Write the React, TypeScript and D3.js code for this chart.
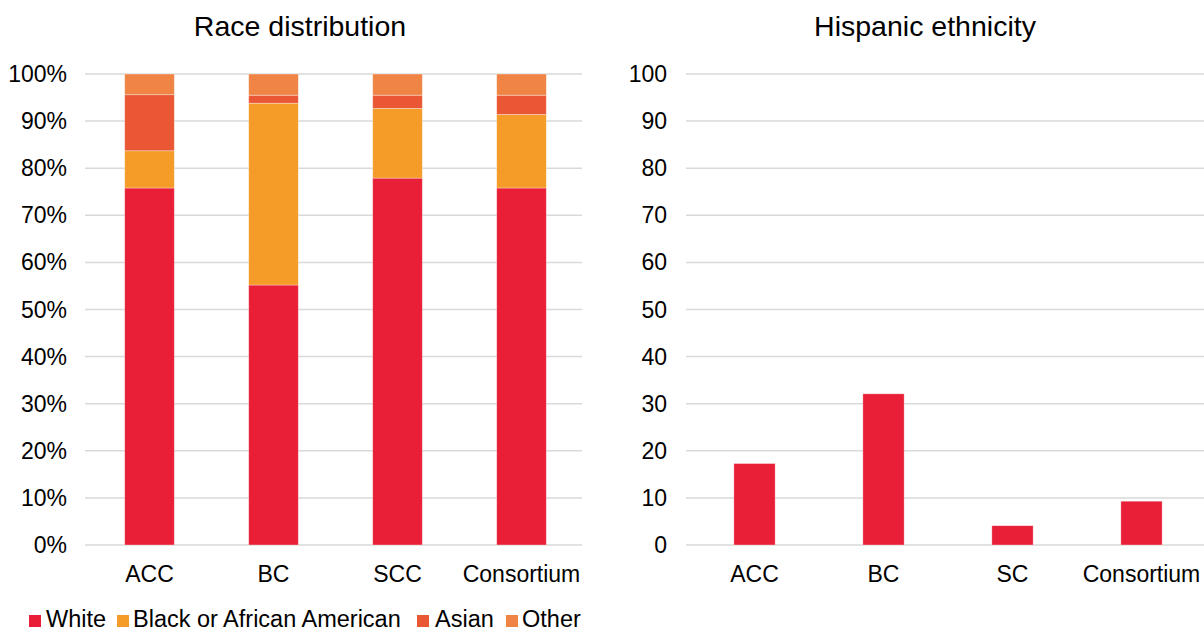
import React from "react";
import * as d3 from "d3";

// Race distribution (percent of each cohort, stacked bottom to top)
const raceCategories = ["ACC", "BC", "SCC", "Consortium"];
const raceSeries = ["White", "Black or African American", "Asian", "Other"];
const white = [75.8, 55.2, 77.9, 75.8];
const black = [7.9, 38.6, 14.8, 15.6];
const asian = [11.9, 1.7, 2.8, 4.1];
const other = [4.4, 4.5, 4.5, 4.5];
const raceColors = ["#E81F37", "#F49B28", "#EA5734", "#EF8445"];
const raceTicks = [0, 10, 20, 30, 40, 50, 60, 70, 80, 90, 100];

// Hispanic ethnicity (percent)
const hispCategories = ["ACC", "BC", "SC", "Consortium"];
const hispValues = [17.3, 32.1, 4.1, 9.3];
const hispTicks = [0, 10, 20, 30, 40, 50, 60, 70, 80, 90, 100];

const FONT = "Liberation Sans, Arial, sans-serif";
const GRID = "#D9D9D9";
const LABEL_SIZE = 23;
const TITLE_SIZE = 28.5;

export default function App() {
  const width = 1204;
  const height = 632;
  const top = 74;
  const bottom = 545;

  // Left panel scales
  const xL = d3.scaleBand().domain(raceCategories).range([87.5, 583.5]).paddingInner(0.6).paddingOuter(0.3);
  const yL = d3.scaleLinear().domain([0, 100]).range([bottom, top]);

  const rows = raceCategories.map((c, i) => ({
    cat: c,
    White: white[i],
    "Black or African American": black[i],
    Asian: asian[i],
    Other: other[i],
  }));
  const stacked = d3.stack<any>().keys(raceSeries)(rows);

  // Right panel scales
  const xR = d3.scaleBand().domain(hispCategories).range([690, 1206]).paddingInner(0.68).paddingOuter(0.34);
  const yR = d3.scaleLinear().domain([0, 100]).range([bottom, top]);

  const pct = d3.format(".0%");

  // Legend layout (swatch x, label x)
  const legendItems = raceSeries.map((s, i) => ({ s, c: raceColors[i] }));
  const swatchX = [29, 117, 417, 506];
  const labelX = [46, 133, 435, 522];

  return (
    <svg width={width} height={height} style={{ position: "absolute", left: 0, top: 0, background: "#fff" }}>
      <rect width={width} height={height} fill="#fff" />
      {/* Left: race distribution */}
      <text x={300} y={36} textAnchor="middle" fontFamily={FONT} fontSize={TITLE_SIZE} fill="#000">
        Race distribution
      </text>
      {raceTicks.map((t) => (
        <g key={"gl" + t}>
          <line x1={85} x2={582} y1={yL(t)} y2={yL(t)} stroke={GRID} strokeWidth={1.5} />
          <text x={67} y={yL(t) + 8} textAnchor="end" fontFamily={FONT} fontSize={LABEL_SIZE} fill="#000">
            {pct(t / 100)}
          </text>
        </g>
      ))}
      {stacked.map((layer, li) => (
        <g key={layer.key} fill={raceColors[li]}>
          {layer.map((d, i) => (
            <rect
              key={i}
              x={xL(raceCategories[i])!}
              width={xL.bandwidth()}
              y={yL(d[1])}
              height={yL(d[0]) - yL(d[1])}
              stroke="#fff"
              strokeOpacity={0.45}
              strokeWidth={0.75}
            />
          ))}
        </g>
      ))}
      {raceCategories.map((c) => (
        <text key={c} x={xL(c)! + xL.bandwidth() / 2} y={582} textAnchor="middle" fontFamily={FONT} fontSize={LABEL_SIZE} fill="#000">
          {c}
        </text>
      ))}
      {legendItems.map((it, i) => (
        <g key={it.s}>
          <rect x={swatchX[i]} y={615} width={12} height={12} fill={it.c} />
          <text x={labelX[i]} y={627} fontFamily={FONT} fontSize={23.5} fill="#000">
            {it.s}
          </text>
        </g>
      ))}

      {/* Right: Hispanic ethnicity */}
      <text x={925} y={36} textAnchor="middle" fontFamily={FONT} fontSize={TITLE_SIZE} fill="#000">
        Hispanic ethnicity
      </text>
      {hispTicks.map((t) => (
        <g key={"gr" + t}>
          <line x1={686} x2={1204} y1={yR(t)} y2={yR(t)} stroke={GRID} strokeWidth={1.5} />
          <text x={667} y={yR(t) + 8} textAnchor="end" fontFamily={FONT} fontSize={LABEL_SIZE} fill="#000">
            {t}
          </text>
        </g>
      ))}
      {hispValues.map((v, i) => (
        <rect
          key={i}
          x={xR(hispCategories[i])!}
          width={xR.bandwidth()}
          y={yR(v)}
          height={yR(0) - yR(v)}
          fill={raceColors[0]}
          stroke="#fff"
          strokeOpacity={0.45}
          strokeWidth={0.75}
        />
      ))}
      {hispCategories.map((c) => (
        <text key={c} x={xR(c)! + xR.bandwidth() / 2} y={582} textAnchor="middle" fontFamily={FONT} fontSize={LABEL_SIZE} fill="#000">
          {c}
        </text>
      ))}
    </svg>
  );
}
